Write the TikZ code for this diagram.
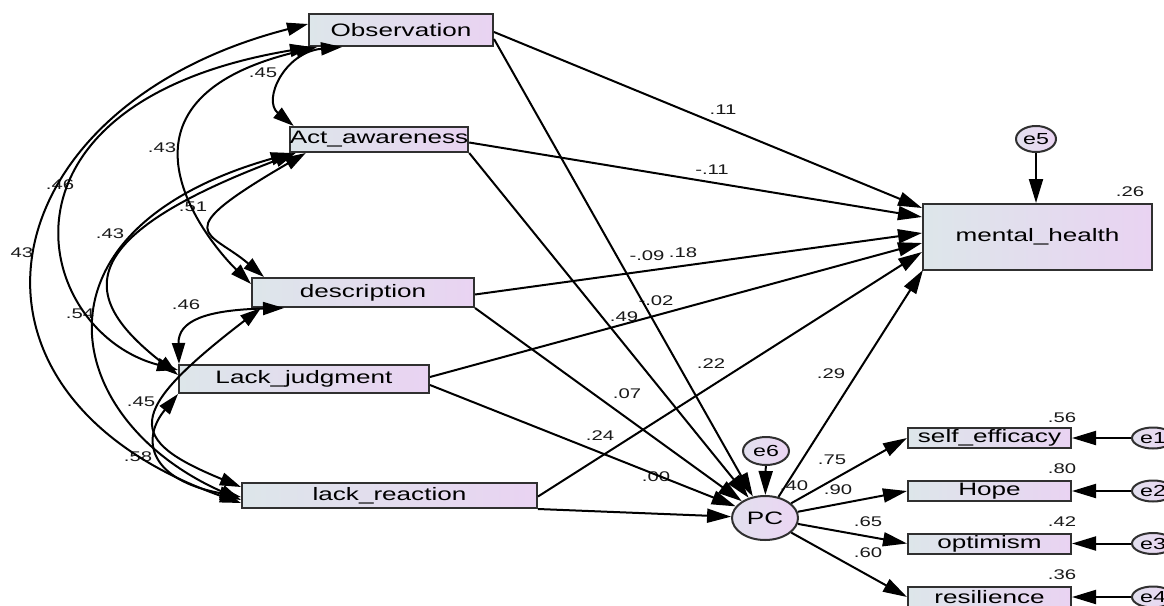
\documentclass[tikz,border=0pt]{standalone}
\usepackage{fontspec}
\newfontfamily\af{Liberation Sans}[FakeStretch=1.45]
\usetikzlibrary{arrows.meta,shapes.geometric,calc}
\definecolor{bxL}{HTML}{DDE6EA}
\definecolor{bxR}{HTML}{E9D3F2}
\definecolor{elL}{HTML}{E2E0EE}
\definecolor{elR}{HTML}{EBD5F3}
\definecolor{bord}{HTML}{303030}
\tikzset{
 var/.style={draw=bord, line width=2pt, left color=bxL, right color=bxR, inner sep=0pt, font=\af\fontsize{18}{20}\selectfont},
 lat/.style={ellipse, draw=bord, line width=2pt, left color=elL, right color=elR, inner sep=0pt, font=\af\fontsize{16}{18}\selectfont},
 pth/.style={line width=2pt, -{Triangle[length=24pt,width=14pt]}},
 cov/.style={line width=2pt, {Triangle[length=21pt,width=13pt]}-{Triangle[length=21pt,width=13pt]}},
 lab/.style={font=\af\fontsize{14}{16}\selectfont, inner sep=0pt, text=black!90},
}
\begin{document}
\begin{tikzpicture}[x=1pt,y=-1pt]
\useasboundingbox[fill=white] (0,0) rectangle (1164,605);
% observed exogenous
\node[var, minimum width=184pt, minimum height=32pt] (obs) at (401,30) {Observation};
\node[var, minimum width=172pt, minimum height=25pt] (act) at (379,139.5) {Act\_awareness};
\node[var, minimum width=222pt, minimum height=29pt] (desc) at (363,292.5) {description};
\node[var, minimum width=250pt, minimum height=28pt] (lj) at (304,379) {Lack\_judgment};
\node[var, minimum width=295pt, minimum height=25pt] (lr) at (389.5,495.5) {lack\_reaction};
% outcome
\node[var, minimum width=229pt, minimum height=66pt] (mh) at (1037.5,237) {mental\_health};
\node[var, minimum width=163pt, minimum height=20pt] (se) at (989.5,438) {self\_efficacy};
\node[var, minimum width=163pt, minimum height=20pt] (hope) at (989.5,491) {Hope};
\node[var, minimum width=163pt, minimum height=20pt] (opt) at (989.5,543.5) {optimism};
\node[var, minimum width=163pt, minimum height=20pt] (res) at (989.5,597) {resilience};
% latent / errors
\node[lat, minimum width=66pt, minimum height=44pt, font=\af\fontsize{18}{20}\selectfont] (pc) at (765,518) {PC};
\node[lat, minimum width=46pt, minimum height=28pt] (e6) at (766,451) {e6};
\node[lat, minimum width=40pt, minimum height=26pt] (e5) at (1036,139) {e5};
\node[lat, minimum width=42pt, minimum height=21pt] (e1) at (1153,438) {e1};
\node[lat, minimum width=42pt, minimum height=21pt] (e2) at (1153,491) {e2};
\node[lat, minimum width=42pt, minimum height=21pt] (e3) at (1153,543.5) {e3};
\node[lat, minimum width=42pt, minimum height=21pt] (e4) at (1153,597) {e4};
% labels: correlations
\node[lab] (c1) at (263,73) {.45};
\node[lab] (c2) at (162,148) {.43};
\node[lab] (c3) at (60,185) {.46};
\node[lab] (c4) at (110,234) {.43};
\node[lab] (c5) at (193,207) {.51};
\node[lab] (c6) at (22,253) {43};
\node[lab] (c7) at (80,314) {.54};
\node[lab] (c8) at (186,305) {.46};
\node[lab] (c9) at (141,402) {.45};
\node[lab] (c10) at (138,457) {.58};
% labels: paths
\node[lab] (p1) at (723,110) {.11};
\node[lab] (p2) at (712,170) {-.11};
\node[lab] (p3) at (647,256) {-.09};
\node[lab] (p4) at (683,253) {.18};
\node[lab] (p5) at (656,301) {-.02};
\node[lab] (p6) at (624,317) {.49};
\node[lab] (p7) at (711,364) {.22};
\node[lab] (p8) at (831,374) {.29};
\node[lab] (p9) at (627,394) {.07};
\node[lab] (p10) at (600,436) {.24};
\node[lab] (p11) at (656,477) {.00};
\node[lab] (p12) at (794,486) {.40};
\node[lab] (p13) at (832,460) {.75};
\node[lab] (p14) at (838,490) {.90};
\node[lab] (p15) at (868,522) {.65};
\node[lab] (p16) at (868,553) {.60};
% labels: R squared
\node[lab] (r1) at (1130,192) {.26};
\node[lab] (r2) at (1062,418) {.56};
\node[lab] (r3) at (1062,469) {.80};
\node[lab] (r4) at (1062,522) {.42};
\node[lab] (r5) at (1062,575) {.36};
% paths to mental_health
\draw[pth] ($(obs.east)+(0,2)$) -- ($(mh.west)+(0,-29)$);
\draw[pth] ($(act.east)+(0,3)$) -- ($(mh.west)+(0,-20)$);
\draw[pth] ($(desc.east)+(0,2)$) -- ($(mh.west)+(0,-4)$);
\draw[pth] ($(lj.east)+(0,-2)$) -- ($(mh.west)+(0,6)$);
\draw[pth] ($(lr.east)+(0,1)$) -- ($(mh.west)+(0,15)$);
\draw[pth] (pc) -- ($(mh.south west)+(1,-1)$);
% paths to PC
\draw[pth] ($(obs.south east)+(0,-8)$) -- (pc);
\draw[pth] (act.south east) -- (pc);
\draw[pth] (desc.south east) -- (pc);
\draw[pth] ($(lj.east)+(0,6)$) -- (pc);
\draw[pth] (lr.south east) -- (pc);
\draw[pth] (e6) -- (pc);
\draw[pth] (e5) -- (e5 |- mh.north);
% PC indicators
\draw[pth] (pc) -- (se.west);
\draw[pth] (pc) -- (hope.west);
\draw[pth] (pc) -- (opt.west);
\draw[pth] (pc) -- (res.west);
\draw[pth] (e1) -- (se);
\draw[pth] (e2) -- (hope);
\draw[pth] (e3) -- (opt);
\draw[pth] (e4) -- (res);
% covariances
\draw[cov] ($(obs.west)+(0,-6)$) .. controls (-12,106) and (-71,393) .. ($(lr.west)+(0,7.5)$);
\draw[cov] ($(obs.south west)+(3,0)$) .. controls (-24,103) and (33,332) .. ($(lj.west)+(0,-9)$);
\draw[cov] ($(obs.south west)+(9,0)$) .. controls (91,101) and (208,242) .. ($(desc.west)+(0,-8.5)$);
\draw[cov] ($(obs.south west)+(34,0)$) .. controls (285,52) and (262,100) .. ($(act.north west)+(5,0)$);
\draw[cov] ($(act.south west)+(17,0)$) .. controls (165,235) and (209,230) .. ($(desc.north west)+(13,0)$);
\draw[cov] ($(act.south west)+(7,0)$) .. controls (65,240) and (82,300) .. ($(lj.west)+(0,-4)$);
\draw[cov] ($(act.south west)+(3,0)$) .. controls (20,230) and (60,420) .. ($(lr.west)+(0,4.5)$);
\draw[cov] ($(desc.south west)+(10,0)$) .. controls (123,414) and (127,440) .. ($(lr.north west)+(0,5)$);
\draw[cov] (lj.south west) .. controls (140,440) and (150,480) .. ($(lr.west)+(0,1.5)$);
\draw[cov] ($(desc.south west)+(33,0)$) .. controls (205,310) and (178,321) .. ($(lj.north west)+(1,0)$);
\end{tikzpicture}
\end{document}
